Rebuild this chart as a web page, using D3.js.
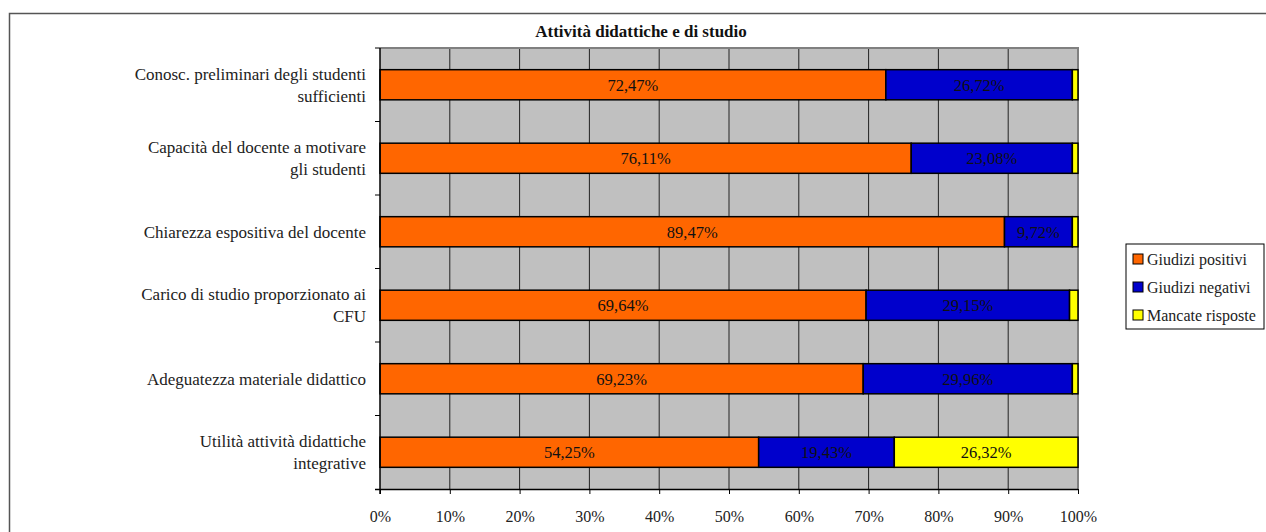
<!DOCTYPE html>
<html><head><meta charset="utf-8">
<script src="https://cdn.jsdelivr.net/npm/d3@7"></script>
<style>body{margin:0;background:#fff}svg{display:block}
svg text{font-family:"Liberation Serif","DejaVu Serif","Noto Serif","Times New Roman",Times,serif;}
</style>
</head><body>
<svg id="c" width="1266" height="532"></svg>
<script>
const categories = [
  ["Conosc. preliminari degli studenti","sufficienti"],
  ["Capacità del docente a motivare","gli studenti"],
  ["Chiarezza espositiva del docente"],
  ["Carico di studio proporzionato ai","CFU"],
  ["Adeguatezza materiale didattico"],
  ["Utilità attività didattiche","integrative"]
];
const seriesNames = ["Giudizi positivi","Giudizi negativi","Mancate risposte"];
const positivi = [72.47, 76.11, 89.47, 69.64, 69.23, 54.25];
const negativi = [26.72, 23.08, 9.72, 29.15, 29.96, 19.43];
const mancate  = [0.81, 0.81, 0.81, 1.21, 0.81, 26.32];
const showLabel = [[true,true,true,true,true,true],[true,true,true,true,true,true],[false,false,false,false,false,true]];
const xTicks = [0,10,20,30,40,50,60,70,80,90,100];
const colors = ["#FF6600","#0000CC","#FFFF00"];

const svg = d3.select("#c");
svg.append("rect").attr("x",9.5).attr("y",13.5).attr("width",1300).attr("height",600)
  .attr("fill","none").attr("stroke","#555").attr("stroke-width",1.5);

const L=380, R=1078, T=48, B=489;
const x = d3.scaleLinear().domain([0,100]).range([L,R]);
const y = d3.scaleBand().domain(d3.range(categories.length)).range([T,B]).paddingInner(0.59).paddingOuter(0.295);

svg.append("rect").attr("x",L).attr("y",T).attr("width",R-L).attr("height",B-T).attr("fill","#C0C0C0");
svg.append("g").selectAll("line").data(xTicks.slice(1,-1)).join("line")
  .attr("x1",d=>x(d)).attr("x2",d=>x(d)).attr("y1",T).attr("y2",B).attr("stroke","#222").attr("stroke-width",1);
svg.append("path").attr("d",`M${L},${T}H${R}V${B}`).attr("fill","none").attr("stroke","#808080").attr("stroke-width",2);

const data = categories.map((c,i)=>({i, v:[positivi[i],negativi[i],mancate[i]]}));
const g = svg.append("g");
data.forEach(d=>{
  let acc=0;
  d.v.forEach((v,s)=>{
    const x0=x(acc), x1=x(acc+v);
    g.append("rect").attr("x",x0).attr("y",y(d.i)).attr("width",x1-x0).attr("height",y.bandwidth())
      .attr("fill",colors[s]).attr("stroke","#000").attr("stroke-width",1.5);
    if(showLabel[s][d.i]){
      g.append("text").attr("x",(x0+x1)/2).attr("y",y(d.i)+y.bandwidth()/2+6)
        .attr("text-anchor","middle").attr("font-size",16.5).attr("fill","#111")
        .text(v.toFixed(2).replace(".",",")+"%");
    }
    acc+=v;
  });
});

const xa = svg.append("g").attr("transform",`translate(0,${B})`)
  .call(d3.axisBottom(x).tickValues(xTicks).tickSize(5).tickPadding(17).tickFormat(d=>d+"%"));
xa.attr("font-family",null);
xa.select(".domain").attr("stroke","#000").attr("stroke-width",1.5).attr("d",`M${L-5},0.5H${R}`);
xa.selectAll(".tick line").attr("stroke","#000");
xa.selectAll("text").attr("font-size",16).attr("fill","#222");

const step = (B-T)/categories.length;
const yl = svg.append("g");
yl.append("line").attr("x1",L).attr("x2",L).attr("y1",T).attr("y2",B+5).attr("stroke","#000").attr("stroke-width",1.5);
yl.selectAll("line.t").data(d3.range(categories.length)).join("line").attr("class","t")
  .attr("x1",L-5).attr("x2",L).attr("y1",d=>T+d*step).attr("y2",d=>T+d*step).attr("stroke","#000");
categories.forEach((lines,i)=>{
  const cy = y(i)+y.bandwidth()/2;
  const lh = 22;
  const start = cy - (lines.length-1)*lh/2 + 6;
  const t = yl.append("text").attr("text-anchor","end").attr("font-size",17).attr("fill","#222");
  lines.forEach((ln,k)=>t.append("tspan").attr("x",366).attr("y",start+k*lh).text(ln));
});

svg.append("text").attr("x",641).attr("y",37).attr("text-anchor","middle")
  .attr("font-size",17).attr("font-weight","bold").attr("fill","#111").text("Attività didattiche e di studio");

const lg = svg.append("g");
lg.append("rect").attr("x",1126).attr("y",244).attr("width",138).attr("height",85).attr("fill","#fff").attr("stroke","#000");
seriesNames.forEach((n,k)=>{
  const yy = 259 + k*28;
  lg.append("rect").attr("x",1133).attr("y",yy-5).attr("width",10).attr("height",10).attr("fill",colors[k]).attr("stroke","#000");
  lg.append("text").attr("x",1147).attr("y",yy+5.5).attr("font-size",16).attr("fill","#222").text(n);
});
</script>
</body></html>
